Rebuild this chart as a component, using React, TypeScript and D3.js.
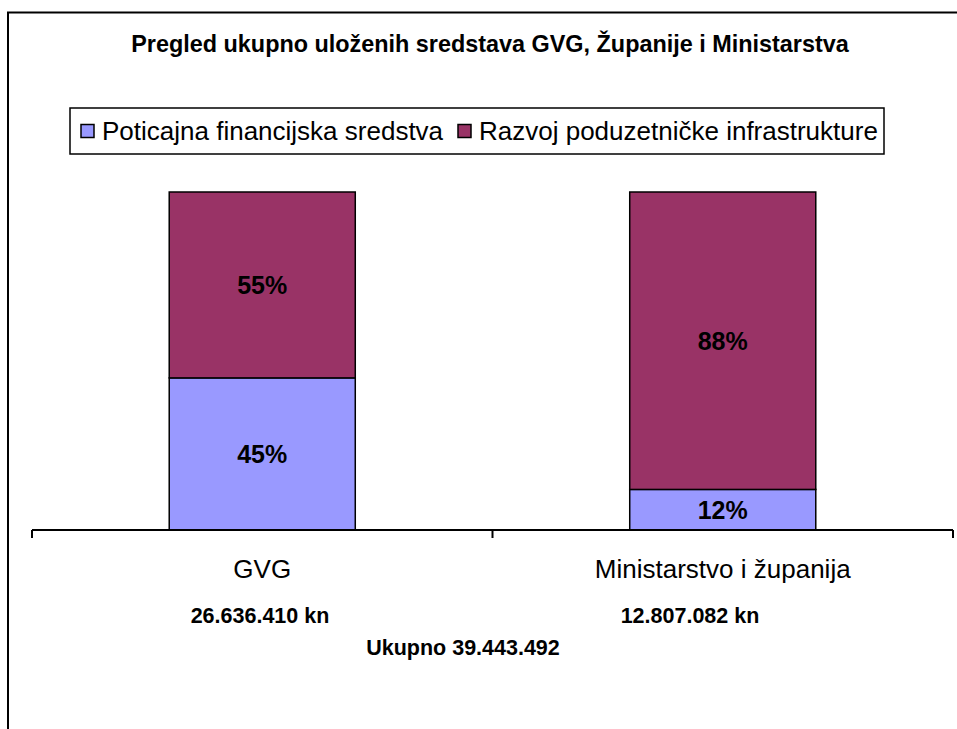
import { useEffect, useRef } from 'react';
import * as d3 from 'd3';

const W = 957;
const H = 729;

const categories = ['GVG', 'Ministarstvo i županija'];
const seriesNames = ['Poticajna financijska sredstva', 'Razvoj poduzetničke infrastrukture'];
const seriesColors = ['#9999FF', '#993366'];
const poticajna = [45, 12];
const razvoj = [55, 88];
const amounts = ['26.636.410 kn', '12.807.082 kn'];
const total = 'Ukupno 39.443.492';
const title = 'Pregled ukupno uloženih sredstava GVG, Županije i Ministarstva';

const font = 'Arial, "Liberation Sans", sans-serif';

export default function App() {
    const ref = useRef<SVGSVGElement>(null);

    useEffect(() => {
        const svg = d3.select(ref.current);
        svg.selectAll('*').remove();

        // chart area border (runs off right/bottom like the original)
        svg.append('rect')
            .attr('x', 8).attr('y', 12.5)
            .attr('width', 1000).attr('height', 1000)
            .attr('fill', '#fff').attr('stroke', '#000').attr('stroke-width', 2);

        svg.append('text')
            .attr('x', 490).attr('y', 52)
            .attr('text-anchor', 'middle')
            .attr('font-family', font).attr('font-weight', 'bold').attr('font-size', 23.4)
            .text(title);

        // legend
        const lg = svg.append('g');
        lg.append('rect')
            .attr('x', 70).attr('y', 108).attr('width', 814).attr('height', 46)
            .attr('fill', '#fff').attr('stroke', '#000').attr('stroke-width', 1.5);
        const legendX = [81, 458];
        seriesNames.forEach((name, i) => {
            lg.append('rect')
                .attr('x', legendX[i]).attr('y', 124.5).attr('width', 13).attr('height', 13)
                .attr('fill', seriesColors[i]).attr('stroke', '#000').attr('stroke-width', 1.5);
            lg.append('text')
                .attr('x', legendX[i] + 21).attr('y', 140)
                .attr('font-family', font).attr('font-size', 26)
                .text(name);
        });

        const x = d3.scaleBand<string>().domain(categories).range([32, 953]).padding(0);
        const y = d3.scaleLinear().domain([0, 100]).range([530, 192]);
        const barW = x.bandwidth() * 0.404;

        const stacked = d3.stack<any>().keys(['a', 'b'])(
            categories.map((c, i) => ({ cat: c, a: poticajna[i], b: razvoj[i] }))
        );

        stacked.forEach((layer, si) => {
            layer.forEach((d: any) => {
                const cx = x(d.data.cat)! + x.bandwidth() / 2;
                svg.append('rect')
                    .attr('x', cx - barW / 2).attr('y', y(d[1]))
                    .attr('width', barW).attr('height', y(d[0]) - y(d[1]))
                    .attr('fill', seriesColors[si]).attr('stroke', '#000').attr('stroke-width', 1.5);
                svg.append('text')
                    .attr('x', cx).attr('y', (y(d[0]) + y(d[1])) / 2 + 9)
                    .attr('text-anchor', 'middle')
                    .attr('font-family', font).attr('font-weight', 'bold').attr('font-size', 25)
                    .text(`${d[1] - d[0]}%`);
            });
        });

        // axis
        const ax = svg.append('g').attr('stroke', '#000').attr('stroke-width', 2);
        ax.append('line').attr('x1', 32).attr('x2', 953).attr('y1', 530).attr('y2', 530);
        [32, 32 + x.bandwidth(), 953].forEach((t) => {
            ax.append('line').attr('x1', t).attr('x2', t).attr('y1', 530).attr('y2', 538);
        });

        categories.forEach((c) => {
            svg.append('text')
                .attr('x', x(c)! + x.bandwidth() / 2).attr('y', 578)
                .attr('text-anchor', 'middle')
                .attr('font-family', font).attr('font-size', 26)
                .text(c);
        });

        const amountX = [260, 690];
        amounts.forEach((a, i) => {
            svg.append('text')
                .attr('x', amountX[i]).attr('y', 623)
                .attr('text-anchor', 'middle')
                .attr('font-family', font).attr('font-weight', 'bold').attr('font-size', 21.5)
                .text(a);
        });
        svg.append('text')
            .attr('x', 463).attr('y', 655)
            .attr('text-anchor', 'middle')
            .attr('font-family', font).attr('font-weight', 'bold').attr('font-size', 21.5)
            .text(total);
    }, []);

    return (
        <svg ref={ref} width={W} height={H}
            style={{ position: 'absolute', left: 0, top: 0, background: '#fff' }} />
    );
}
